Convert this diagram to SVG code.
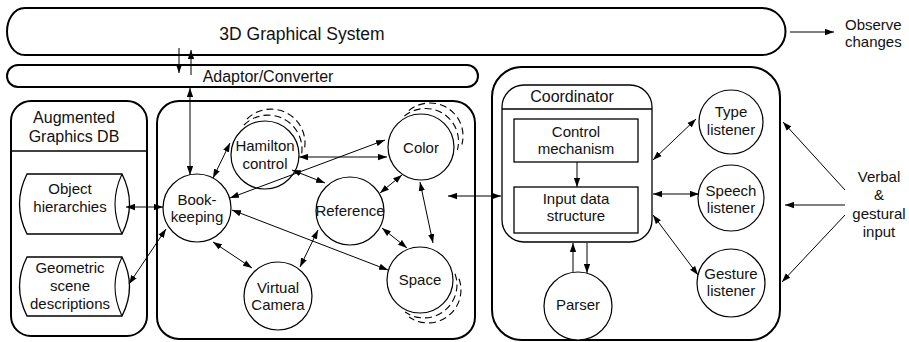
<svg xmlns="http://www.w3.org/2000/svg" width="909" height="342" viewBox="0 0 909 342">
  <defs>
    <marker id="ah" viewBox="0 0 10 7" refX="10" refY="3.5" markerWidth="9" markerHeight="7" markerUnits="userSpaceOnUse" orient="auto-start-reverse">
      <path d="M0,0 L10,3.5 L0,7 Z" fill="#000"/>
    </marker>
  </defs>
  <style>
    text { font-family: "Liberation Sans", Arial, sans-serif; font-size: 15px; fill: #111; text-anchor: middle; }
    .hdr { font-size: 16px; }
    .big { font-size: 17.5px; }
    .left { text-anchor: start; }
    .panel { fill: #fff; stroke: #000; stroke-width: 2; }
    .box { fill: #fff; stroke: #000; stroke-width: 1.3; }
    .node { fill: #fff; stroke: #000; stroke-width: 1.2; }
    .dash { fill: none; stroke: #000; stroke-width: 1.1; stroke-dasharray: 7 4; }
    .bi { fill: none; stroke: #000; stroke-width: 1; marker-start: url(#ah); marker-end: url(#ah); }
    .uni { fill: none; stroke: #000; stroke-width: 1; marker-end: url(#ah); }
  </style>

  <!-- top bars -->
  <g id="graphical-system">
    <path class="panel" d="M25,8 L762,8 A23.5,23.5 0 0 1 762,55 L25,55 C13,55 7,42 7,31.5 C7,21 13,8 25,8 Z"/>
    <text class="big" x="302" y="40">3D Graphical System</text>
  </g>
  <g id="adaptor">
    <rect class="panel" x="7" y="65" width="471" height="22" rx="11"/>
    <text class="hdr" x="268" y="82">Adaptor/Converter</text>
  </g>
  <g id="observe">
    <text class="left" x="845" y="30">Observe</text>
    <text class="left" x="845" y="47">changes</text>
  </g>

  <!-- left panel -->
  <g id="graphics-db">
    <rect class="panel" x="11" y="101" width="136" height="235" rx="20"/>
    <line x1="11" y1="151" x2="147" y2="151" stroke="#000" stroke-width="1.3"/>
    <text class="hdr" x="74" y="123">Augmented</text>
    <text class="hdr" x="74" y="142">Graphics DB</text>
  </g>
  <g id="object-hierarchies">
    <path class="box" d="M27,174 L122,174 Q137,204 122,234 L27,234 Q12,204 27,174 Z"/>
    <path fill="none" stroke="#000" stroke-width="1.1" d="M122,174 Q108,204 122,234"/>
    <text x="70" y="194">Object</text>
    <text x="70" y="212">hierarchies</text>
  </g>
  <g id="geometric-scene">
    <path class="box" d="M27,257 L122,257 Q137,286.5 122,316 L27,316 Q12,286.5 27,257 Z"/>
    <path fill="none" stroke="#000" stroke-width="1.1" d="M122,257 Q108,286.5 122,316"/>
    <text x="70" y="273">Geometric</text>
    <text x="70" y="291">scene</text>
    <text x="70" y="309">descriptions</text>
  </g>

  <!-- middle panel -->
  <g id="model-panel">
    <rect class="panel" x="157" y="101" width="318" height="238" rx="22"/>
  </g>
  <g id="bookkeeping">
    <circle class="node" cx="197" cy="208" r="34"/>
    <text x="197" y="205">Book-</text>
    <text x="197" y="222">keeping</text>
  </g>
  <g id="hamilton">
    <path class="dash" d="M247,119 A34,34 0 0 1 304.5,148.9"/>
    <path class="dash" d="M244,125 A34,34 0 0 1 301.5,154.9"/>
    <circle class="node" cx="265" cy="155" r="34"/>
    <text x="265" y="151">Hamilton</text>
    <text x="265" y="169">control</text>
  </g>
  <g id="color">
    <path class="dash" d="M408.8,110.7 A33,33 0 0 1 461.9,144.5"/>
    <path class="dash" d="M404.3,116.2 A33,33 0 0 1 457.4,150"/>
    <circle class="node" cx="421" cy="147" r="33"/>
    <text x="421" y="153">Color</text>
  </g>
  <g id="reference">
    <circle class="node" cx="350" cy="211" r="34"/>
    <text x="350" y="216">Reference</text>
  </g>
  <g id="virtual-camera">
    <circle class="node" cx="278" cy="296" r="34"/>
    <text x="278" y="293">Virtual</text>
    <text x="278" y="310">Camera</text>
  </g>
  <g id="space">
    <path class="dash" d="M459,278.7 A33,33 0 0 1 409.1,317"/>
    <path class="dash" d="M455,273.7 A33,33 0 0 1 405.1,312"/>
    <circle class="node" cx="420" cy="280" r="33"/>
    <text x="420" y="285">Space</text>
  </g>

  <!-- right panel -->
  <g id="input-panel">
    <rect class="panel" x="492" y="67" width="288" height="273" rx="30"/>
  </g>
  <g id="coordinator">
    <rect class="box" x="502" y="85" width="150" height="157" rx="22"/>
    <line x1="502" y1="109" x2="652" y2="109" stroke="#000" stroke-width="1.3"/>
    <text class="hdr" x="572" y="102">Coordinator</text>
  </g>
  <g id="control-mechanism">
    <rect class="box" x="514" y="119" width="124" height="43"/>
    <text x="576" y="137">Control</text>
    <text x="576" y="154">mechanism</text>
  </g>
  <g id="input-data">
    <rect class="box" x="514" y="187" width="124" height="46"/>
    <text x="576" y="204">Input data</text>
    <text x="576" y="221">structure</text>
  </g>
  <g id="parser">
    <circle class="node" cx="578" cy="306" r="34"/>
    <text x="578" y="310">Parser</text>
  </g>
  <g id="type-listener">
    <circle class="node" cx="731" cy="122" r="32"/>
    <text x="731" y="117">Type</text>
    <text x="731" y="135">listener</text>
  </g>
  <g id="speech-listener">
    <circle class="node" cx="731" cy="198" r="33"/>
    <text x="731" y="196">Speech</text>
    <text x="731" y="213">listener</text>
  </g>
  <g id="gesture-listener">
    <circle class="node" cx="731" cy="283" r="34"/>
    <text x="731" y="279">Gesture</text>
    <text x="731" y="296">listener</text>
  </g>
  <g id="verbal-input">
    <text x="879" y="182">Verbal</text>
    <text x="879" y="200">&amp;</text>
    <text x="879" y="219">gestural</text>
    <text x="879" y="237">input</text>
  </g>

  <!-- connectors -->
  <g id="connectors">
    <line class="uni" x1="790" y1="32" x2="834" y2="32"/>
    <line class="uni" x1="179" y1="48" x2="179" y2="73"/>
    <line class="uni" x1="191" y1="75" x2="191" y2="50"/>
    <line class="bi" x1="190" y1="88" x2="190" y2="175"/>
    <line class="bi" x1="126" y1="207" x2="163" y2="207"/>
    <line class="bi" x1="129" y1="284" x2="166" y2="229"/>
    <line class="bi" x1="213" y1="178" x2="230" y2="143"/>
    <line class="bi" x1="299" y1="157" x2="387" y2="157"/>
    <line class="bi" x1="385" y1="140" x2="230" y2="198"/>
    <line class="bi" x1="292" y1="170" x2="325" y2="183"/>
    <line class="bi" x1="402" y1="175" x2="380" y2="193"/>
    <line class="bi" x1="420" y1="182" x2="433" y2="243"/>
    <line class="bi" x1="382" y1="228" x2="407" y2="248"/>
    <line class="bi" x1="318" y1="230" x2="300" y2="267"/>
    <line class="bi" x1="213" y1="242" x2="252" y2="268"/>
    <line class="bi" x1="232" y1="210" x2="388" y2="270"/>
    <line class="bi" x1="448" y1="196" x2="501" y2="196"/>
    <line class="uni" x1="577" y1="162" x2="577" y2="187"/>
    <line class="uni" x1="573" y1="272" x2="573" y2="243"/>
    <line class="uni" x1="587" y1="243" x2="587" y2="273"/>
    <line class="bi" x1="653" y1="160" x2="696" y2="119"/>
    <line class="bi" x1="653" y1="194" x2="699" y2="194"/>
    <line class="bi" x1="653" y1="215" x2="698" y2="275"/>
    <line class="uni" x1="845" y1="190" x2="783" y2="122"/>
    <line class="uni" x1="845" y1="205" x2="785" y2="205"/>
    <line class="uni" x1="845" y1="215" x2="782" y2="282"/>
  </g>
</svg>
